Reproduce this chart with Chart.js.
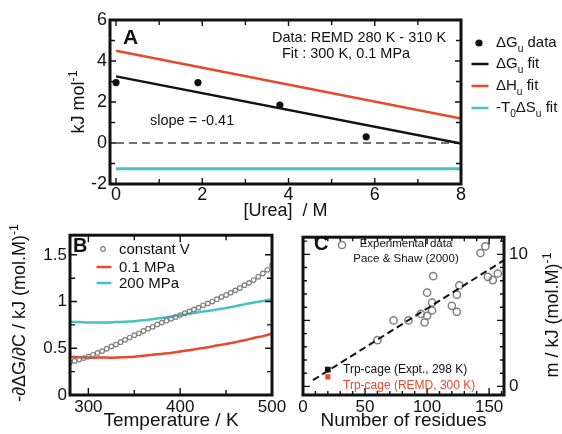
<!DOCTYPE html>
<html lang="en">
<head>
<meta charset="UTF-8">
<title>Urea dependence of Trp-cage stability</title>
<script src="https://cdn.jsdelivr.net/npm/chart.js"></script>
<style>
  html, body { margin: 0; padding: 0; background: #fff; overflow: hidden; }
  #wrap { position: relative; width: 562px; height: 434px; }
  .panel { position: absolute; }
</style>
</head>
<body>
<div id="wrap">
  <div class="panel" style="left:0;top:0;width:562px;height:228px"><canvas id="chartA"></canvas></div>
  <div class="panel" style="left:0;top:222px;width:290px;height:214px"><canvas id="chartB"></canvas></div>
  <div class="panel" style="left:290px;top:222px;width:272px;height:214px"><canvas id="chartC"></canvas></div>
</div>

<script>
const FONT = '"Liberation Sans", "Helvetica Neue", Arial, sans-serif';
const INK = '#111111';
const RED = '#e8482c';
const CYAN = '#48c0c8';
const GRAY = '#7f7f7f';

// ---- A: stability vs urea concentration ----
const ureaM = [0, 1.9, 3.8, 5.8];
const dGuData = [2.95, 2.95, 1.85, 0.3];
const fitUreaM = [0, 8];
const dGuFit = [3.25, -0.03];
const dHuFit = [4.5, 1.2];
const tdSuFit = [-1.25, -1.25];
const zeroLine = [0, 0];

// ---- B: m-value vs temperature ----
const tempV = [280, 285, 290, 295, 300, 305, 310, 315, 320, 325, 330, 335, 340, 345, 350,
               355, 360, 365, 370, 375, 380, 385, 390, 395, 400, 405, 410, 415, 420, 425,
               430, 435, 440, 445, 450, 455, 460, 465, 470, 475, 480, 485, 490, 495, 500];
const mConstV = [0.35, 0.365, 0.38, 0.395, 0.41, 0.43, 0.45, 0.47, 0.495, 0.52, 0.54, 0.565, 0.59, 0.615, 0.64,
                 0.66, 0.685, 0.71, 0.73, 0.755, 0.775, 0.795, 0.815, 0.835, 0.855, 0.875, 0.895, 0.915, 0.935, 0.96,
                 0.98, 1.0, 1.025, 1.05, 1.07, 1.095, 1.12, 1.145, 1.175, 1.2, 1.23, 1.265, 1.3, 1.34, 1.39];
const tempP = [280, 290, 300, 310, 320, 330, 340, 350, 360, 370, 380, 390,
               400, 410, 420, 430, 440, 450, 460, 470, 480, 490, 500];
const m01MPa = [0.41, 0.405, 0.40, 0.40, 0.40, 0.40, 0.405, 0.41, 0.42, 0.43, 0.44, 0.45,
                0.465, 0.48, 0.495, 0.51, 0.53, 0.545, 0.565, 0.585, 0.61, 0.63, 0.655];
const m200MPa = [0.785, 0.78, 0.775, 0.775, 0.775, 0.78, 0.785, 0.79, 0.80, 0.81, 0.825, 0.84,
                 0.855, 0.87, 0.885, 0.90, 0.915, 0.93, 0.95, 0.97, 0.99, 1.005, 1.025];

// ---- C: m-value vs chain length ----
const nResidues = [60, 73, 85, 95, 98, 100, 100, 104, 104, 105, 120, 124, 124, 126, 143, 147, 149, 153, 157];
const mExpt = [3.5, 5.0, 5.0, 5.5, 4.85, 7.1, 5.35, 6.35, 5.75, 8.35, 6.1, 6.95, 5.65, 7.65, 10.1, 10.6, 8.3, 8.05, 8.55];
const trpResidues = [20];
const trpExptM = [1.27];
const trpRemdM = [0.72];
const fitResidues = [8, 162];
const fitM = [0.47, 9.56];

const pts = (xs, ys) => xs.map((x, i) => ({ x, y: ys[i] }));

// text with sub/superscript pieces; y is the middle of the capitals
function drawRich(ctx, parts, x, y, o) {
  const size = o.size || 15;
  const weight = o.weight || 'normal';
  let total = 0;
  const segs = parts.map(p => {
    const [t, kind] = Array.isArray(p) ? p : [p, null];
    const s = kind ? size * 0.68 : size;
    ctx.font = weight + ' ' + s + 'px ' + FONT;
    const w = ctx.measureText(t).width;
    total += w;
    return { t, kind, s, w };
  });
  let cx = o.align === 'center' ? x - total / 2 : o.align === 'right' ? x - total : x;
  const base = y + size * 0.36;
  ctx.fillStyle = o.color || INK;
  ctx.textBaseline = 'alphabetic';
  ctx.textAlign = 'left';
  segs.forEach(g => {
    ctx.font = weight + ' ' + g.s + 'px ' + FONT;
    const dy = g.kind === 'sub' ? size * 0.3 : g.kind === 'sup' ? -size * 0.42 : 0;
    ctx.fillText(g.t, cx, base + dy);
    cx += g.w;
  });
}

function drawMark(ctx, it, x, y) {
  ctx.fillStyle = it.color; ctx.strokeStyle = it.color;
  if (it.mark === 'dot') {
    ctx.beginPath(); ctx.arc(x, y, it.r, 0, Math.PI * 2); ctx.fill();
  } else if (it.mark === 'ring') {
    ctx.lineWidth = it.lw || 1.5;
    ctx.beginPath(); ctx.arc(x, y, it.r, 0, Math.PI * 2); ctx.stroke();
  } else if (it.mark === 'line') {
    ctx.lineWidth = it.lw || 2.5;
    ctx.beginPath(); ctx.moveTo(x - it.len / 2, y); ctx.lineTo(x + it.len / 2, y); ctx.stroke();
  }
}

// inward ticks on all four sides plus the heavy box
const framePlugin = {
  id: 'frame',
  afterDatasetsDraw(chart, args, o) {
    const { ctx, chartArea: a, scales: { x, y } } = chart;
    const steps = (min, max, step) => {
      const out = [];
      const first = Math.ceil(min / step - 1e-9);
      for (let k = first; k * step <= max + 1e-9; k++) out.push(k * step);
      return out;
    };
    const isMajor = (v, m) => Math.abs(v / m - Math.round(v / m)) < 1e-6;
    ctx.save();
    ctx.strokeStyle = INK;
    ctx.lineWidth = 1.4;
    steps(x.min, x.max, o.xMinor).forEach(v => {
      const p = x.getPixelForValue(v);
      const len = isMajor(v, o.xMajor) ? o.major : o.minor;
      ctx.beginPath();
      ctx.moveTo(p, a.bottom); ctx.lineTo(p, a.bottom - len);
      ctx.moveTo(p, a.top); ctx.lineTo(p, a.top + len);
      ctx.stroke();
    });
    steps(y.min, y.max, o.yMinor).forEach(v => {
      const p = y.getPixelForValue(v);
      const len = isMajor(v, o.yMajor) ? o.major : o.minor;
      ctx.beginPath();
      ctx.moveTo(a.left, p); ctx.lineTo(a.left + len, p);
      ctx.moveTo(a.right, p); ctx.lineTo(a.right - len, p);
      ctx.stroke();
    });
    ctx.lineWidth = 3;
    ctx.strokeRect(a.left, a.top, a.width, a.height);
    ctx.restore();
  }
};

// labels, in-panel legends and rotated axis titles
const notesPlugin = {
  id: 'notes',
  afterDraw(chart, args, o) {
    const ctx = chart.ctx;
    (o.items || []).forEach(it => {
      let x = it.x, y = it.y;
      if (it.data) {
        x = chart.scales.x.getPixelForValue(it.x);
        y = chart.scales.y.getPixelForValue(it.y);
      }
      ctx.save();
      if (it.mark) {
        drawMark(ctx, it, x, y);
      } else {
        ctx.translate(x, y);
        if (it.rotate) ctx.rotate(it.rotate);
        drawRich(ctx, it.parts, 0, 0, it);
      }
      ctx.restore();
    });
  }
};

Chart.register(framePlugin, notesPlugin);

const plainNumber = v => String(+Number(v).toFixed(2));

function axis(min, max, step, size, pad, extra) {
  return Object.assign({
    type: 'linear', min, max,
    grid: { display: false, drawTicks: false },
    border: { display: false },
    ticks: {
      stepSize: step, includeBounds: false, autoSkip: false, maxRotation: 0,
      color: INK, padding: pad, font: { family: FONT, size }, callback: plainNumber
    }
  }, extra);
}

function xTitle(text, size, pad) {
  return { display: true, text, color: INK, font: { family: FONT, size }, padding: { top: 0, bottom: pad } };
}

const baseOptions = {
  responsive: true,
  maintainAspectRatio: false,
  animation: false,
  events: []
};

const lineSet = (data, color, width, extra) => Object.assign({
  type: 'line', data, borderColor: color, borderWidth: width,
  pointRadius: 0, fill: false, tension: 0
}, extra);

// ---------- panel A ----------
new Chart(document.getElementById('chartA'), {
  type: 'scatter',
  data: {
    datasets: [
      { data: pts(ureaM, dGuData), pointRadius: 3.6, pointBackgroundColor: INK, pointBorderWidth: 0 },
      lineSet(pts(fitUreaM, dGuFit), INK, 2.5),
      lineSet(pts(fitUreaM, dHuFit), RED, 2.5),
      lineSet(pts(fitUreaM, tdSuFit), CYAN, 3),
      lineSet(pts(fitUreaM, zeroLine), '#444', 1.5, { borderDash: [8, 5] })
    ]
  },
  options: Object.assign({}, baseOptions, {
    layout: { padding: { left: 0, right: 101, top: 20, bottom: 0 } },
    scales: {
      x: axis(-0.14, 8, 2, 18, 0, {
        title: xTitle('[Urea]  / M', 18, 6),
        afterFit: s => { s.height = 44; }
      }),
      y: axis(-2, 6, 2, 18, 3, { afterFit: s => { s.width = 110; } })
    },
    plugins: {
      legend: { display: false },
      tooltip: { enabled: false },
      frame: { xMinor: 1, xMajor: 2, yMinor: 1, yMajor: 2, major: 6, minor: 5 },
      notes: {
        items: [
          { parts: ['kJ mol', ['-1', 'sup']], x: 78, y: 102, rotate: -Math.PI / 2, align: 'center', size: 18 },
          { parts: ['A'], x: 123, y: 36, size: 21, weight: 'bold' },
          { parts: ['Data: REMD 280 K - 310 K'], x: 272, y: 37, size: 14.5 },
          { parts: ['Fit : 300 K, 0.1 MPa'], x: 282, y: 53, size: 14.5 },
          { parts: ['slope = -0.41'], x: 150, y: 120, size: 14.5 },
          { mark: 'dot', x: 479, y: 43, r: 3.6, color: INK },
          { parts: ['ΔG', ['u', 'sub'], ' data'], x: 496, y: 42, size: 15 },
          { mark: 'line', x: 480, y: 64, len: 17, color: INK, lw: 2.5 },
          { parts: ['ΔG', ['u', 'sub'], ' fit'], x: 496, y: 63, size: 15 },
          { mark: 'line', x: 480, y: 86, len: 17, color: RED, lw: 2.5 },
          { parts: ['ΔH', ['u', 'sub'], ' fit'], x: 496, y: 85, size: 15 },
          { mark: 'line', x: 480, y: 108, len: 17, color: CYAN, lw: 2.5 },
          { parts: ['-T', ['0', 'sub'], 'ΔS', ['u', 'sub'], ' fit'], x: 496, y: 107, size: 15 }
        ]
      }
    }
  })
});

// ---------- panel B ----------
new Chart(document.getElementById('chartB'), {
  type: 'scatter',
  data: {
    datasets: [
      { data: pts(tempV, mConstV), pointRadius: 2.3, pointBorderWidth: 1.2,
        pointBorderColor: GRAY, pointBackgroundColor: 'rgba(0,0,0,0)' },
      lineSet(pts(tempP, m01MPa), RED, 2.5, { tension: 0.3 }),
      lineSet(pts(tempP, m200MPa), CYAN, 2.5, { tension: 0.3 })
    ]
  },
  options: Object.assign({}, baseOptions, {
    layout: { padding: { left: 0, right: 18, top: 9, bottom: 0 } },
    scales: {
      x: axis(280, 500, 100, 17, 2, {
        title: xTitle('Temperature / K', 19, 4),
        afterFit: s => { s.height = 41; }
      }),
      y: axis(0, 1.71, 0.5, 17, 3, { afterFit: s => { s.width = 70; } })
    },
    plugins: {
      legend: { display: false },
      tooltip: { enabled: false },
      frame: { xMinor: 50, xMajor: 100, yMinor: 0.25, yMajor: 0.5, major: 7, minor: 5 },
      notes: {
        items: [
          { parts: ['-∂ΔG/∂C / kJ (mol.M)', ['-1', 'sup']], x: 19, y: 91, rotate: -Math.PI / 2, align: 'center', size: 18 },
          { parts: ['B'], x: 73, y: 23, size: 20, weight: 'bold' },
          { mark: 'ring', x: 103, y: 27, r: 2.3, lw: 1.2, color: GRAY },
          { parts: ['constant V'], x: 119, y: 27, size: 15 },
          { mark: 'line', x: 104, y: 45, len: 15, color: RED, lw: 2.5 },
          { parts: ['0.1 MPa'], x: 119, y: 45, size: 15 },
          { mark: 'line', x: 104, y: 61, len: 15, color: CYAN, lw: 2.5 },
          { parts: ['200 MPa'], x: 119, y: 61, size: 15 }
        ]
      }
    }
  })
});

// ---------- panel C ----------
new Chart(document.getElementById('chartC'), {
  type: 'scatter',
  data: {
    datasets: [
      { data: pts(trpResidues, trpExptM), pointStyle: 'rect', pointRadius: 4, pointBorderWidth: 0, pointBackgroundColor: INK },
      { data: pts(trpResidues, trpRemdM), pointStyle: 'rect', pointRadius: 3.6, pointBorderWidth: 0, pointBackgroundColor: RED },
      lineSet(pts(fitResidues, fitM), INK, 2, { borderDash: [7, 4] }),
      { data: pts(nResidues, mExpt), pointRadius: 3.6, pointBorderWidth: 1.5,
        pointBorderColor: GRAY, pointBackgroundColor: 'rgba(0,0,0,0)' }
    ]
  },
  options: Object.assign({}, baseOptions, {
    layout: { padding: { left: 13, right: 0, top: 9, bottom: 0 } },
    scales: {
      x: axis(0, 162, 50, 17, 2, {
        title: xTitle('Number of residues', 19, 4),
        afterFit: s => { s.height = 41; }
      }),
      y: axis(-0.65, 11.3, 10, 17, 5, { position: 'right', afterFit: s => { s.width = 58; } })
    },
    plugins: {
      legend: { display: false },
      tooltip: { enabled: false },
      frame: { xMinor: 10, xMajor: 50, yMinor: 1, yMajor: 5, major: 7, minor: 4 },
      notes: {
        items: [
          { parts: ['m / kJ (mol.M)', ['-1', 'sup']], x: 262, y: 93, rotate: -Math.PI / 2, align: 'center', size: 18 },
          { parts: ['C'], x: 24, y: 21, size: 20, weight: 'bold' },
          { mark: 'ring', x: 52, y: 23, r: 3.6, lw: 1.5, color: GRAY },
          { parts: ['Experimental data'], x: 116, y: 21, size: 11.5, align: 'center' },
          { parts: ['Pace & Shaw (2000)'], x: 116, y: 36, size: 11.5, align: 'center' },
          { parts: ['Trp-cage (Expt., 298 K)'], x: 53, y: 147, size: 12 },
          { parts: ['Trp-cage (REMD, 300 K)'], x: 53, y: 163, size: 12, color: RED }
        ]
      }
    }
  })
});
</script>
</body>
</html>
